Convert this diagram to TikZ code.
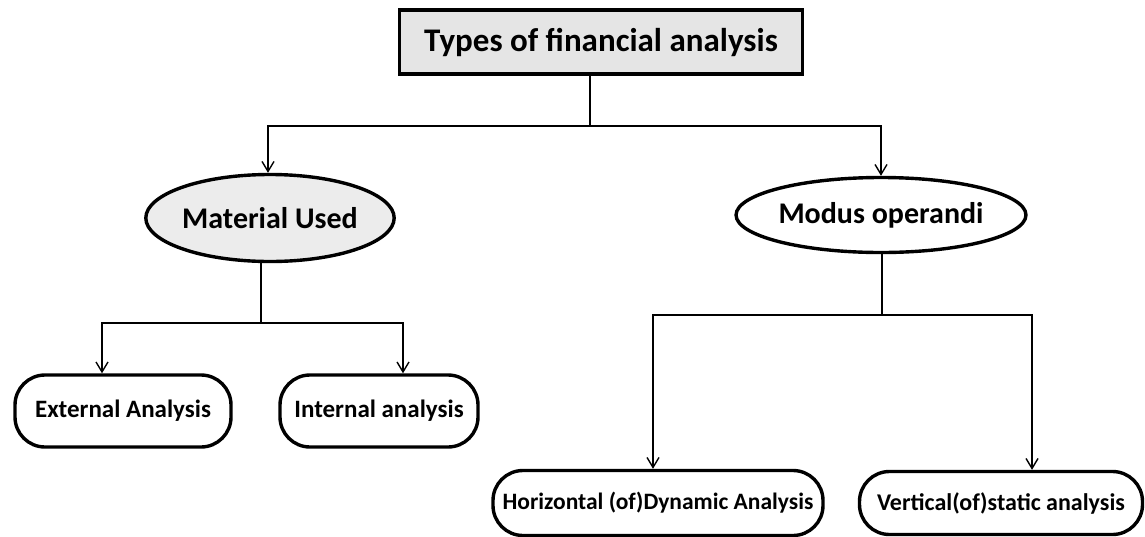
\documentclass[tikz,border=0pt]{standalone}
\usepackage{fontspec}
\setmainfont{Carlito}
\usetikzlibrary{arrows.meta,shapes.geometric}

\begin{document}
\begin{tikzpicture}[x=1pt,y=-1pt,>={Straight Barb[length=10pt,width=12pt,line width=1.4pt]},line cap=round,
  head/.style={draw,line width=3.2pt,fill=gray!20,minimum width=403pt,minimum height=64pt,font=\bfseries\fontsize{33}{35}\selectfont},
  group/.style={ellipse,draw,line width=3.4pt,inner sep=0pt,font=\bfseries\fontsize{30}{32}\selectfont},
  leaf/.style={draw,line width=3.4pt,rounded corners=30pt,inner sep=0pt,font=\bfseries\fontsize{25}{27}\selectfont},
  link/.style={line width=1.3pt}]
\useasboundingbox (0,0) rectangle (1145,536);
% top and the two ways of grouping
\node[head] (types) at (601,42) {Types of financial analysis};
\node[group,fill=gray!15,minimum width=245pt,minimum height=87pt] (used) at (270,218) {Material Used};
\node[group,fill=white,minimum width=258pt,minimum height=75pt] (modus) at (881,215) {Modus operandi};
% leaves
\node[leaf,minimum width=216pt,minimum height=72pt] (ext) at (123,411) {External Analysis};
\node[leaf,minimum width=198pt,minimum height=72pt] (int) at (379,411) {Internal analysis};
\node[leaf,minimum width=330pt,minimum height=65pt,font=\bfseries\fontsize{23.5}{25}\selectfont] (horiz) at (658,503) {Horizontal (of)Dynamic Analysis};
\node[leaf,minimum width=283pt,minimum height=63pt,font=\bfseries\fontsize{24}{26}\selectfont] (vert) at (1001,503) {Vertical(of)static analysis};
% joints
\coordinate (split0) at (590,126);
\coordinate (split1) at (261,323);
\coordinate (split2) at (882,315);
\draw[link] (types.south -| split0) -- (split0);
\draw[link,->] (split0) -| ([xshift=-2pt]used.north);
\draw[link,->] (split0) -| (modus.north);
\draw[link] (used.south -| split1) -- (split1);
\draw[link,->] (split1) -| ([xshift=-21pt]ext.north);
\draw[link,->] (split1) -| ([xshift=24pt]int.north);
\draw[link] (modus.south -| split2) -- (split2);
\draw[link,->] (split2) -| ([xshift=-5pt]horiz.north);
\draw[link,->] (split2) -| ([xshift=31pt]vert.north);
\end{tikzpicture}
\end{document}
